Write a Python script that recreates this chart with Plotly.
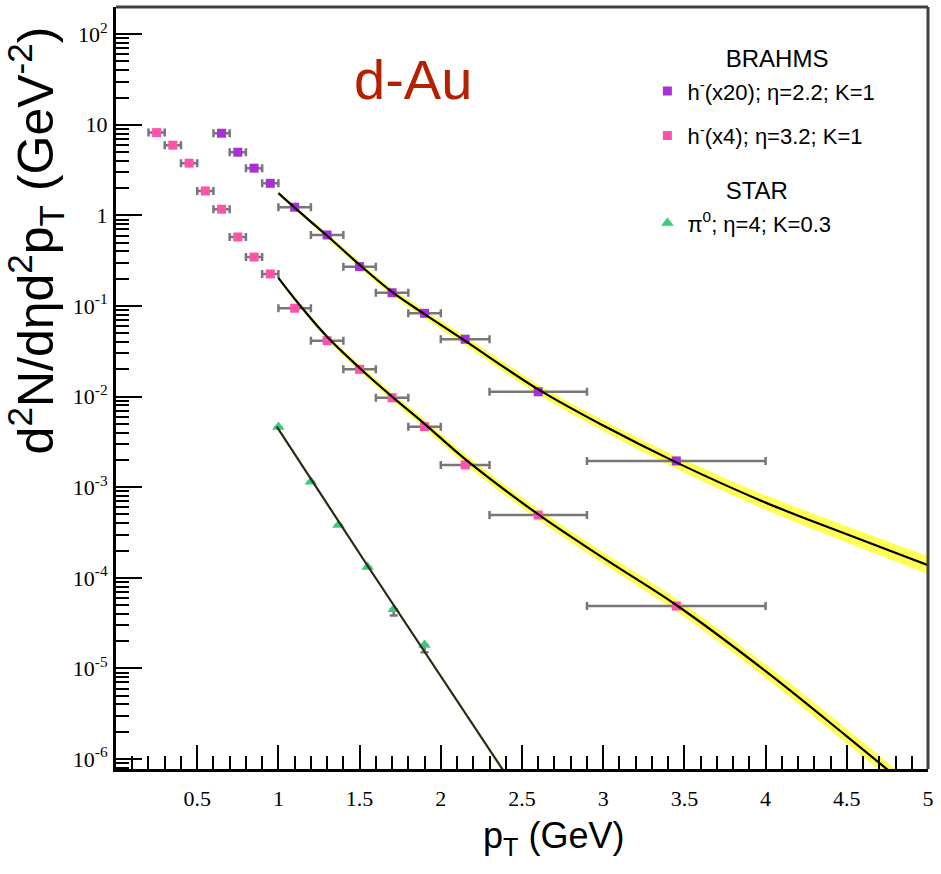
import plotly.graph_objects as go

# ---------------- data ----------------
# BRAHMS h- (x20), eta = 2.2
brahms22_pt = [0.65, 0.75, 0.85, 0.95, 1.1, 1.3, 1.5, 1.7, 1.9, 2.15, 2.6, 3.45]
brahms22_y = [8.07, 4.98, 3.32, 2.26, 1.23, 0.608, 0.272, 0.140, 0.083, 0.043, 0.0113, 0.00195]
brahms22_exm = [0.05, 0.05, 0.05, 0.05, 0.1, 0.1, 0.1, 0.1, 0.1, 0.15, 0.3, 0.55]
brahms22_exp = [0.05, 0.05, 0.05, 0.05, 0.1, 0.1, 0.1, 0.1, 0.1, 0.15, 0.3, 0.55]

# BRAHMS h- (x4), eta = 3.2
brahms32_pt = [0.25, 0.35, 0.45, 0.55, 0.65, 0.75, 0.85, 0.95, 1.1, 1.3, 1.5, 1.7, 1.9, 2.15, 2.6, 3.45]
brahms32_y = [8.2, 5.96, 3.77, 1.86, 1.17, 0.578, 0.347, 0.226, 0.0945, 0.0414, 0.0200,
              0.00972, 0.00466, 0.00176, 4.93e-4, 4.88e-5]
brahms32_exm = [0.05, 0.05, 0.05, 0.05, 0.05, 0.05, 0.05, 0.05, 0.1, 0.1, 0.1, 0.1, 0.1, 0.15, 0.3, 0.55]
brahms32_exp = [0.05, 0.05, 0.05, 0.05, 0.05, 0.05, 0.05, 0.05, 0.1, 0.1, 0.1, 0.1, 0.1, 0.15, 0.3, 0.55]

# STAR pi0, eta = 4
star_pt = [1.0, 1.2, 1.37, 1.55, 1.71, 1.9]
star_y = [4.62e-3, 1.15e-3, 3.82e-4, 1.32e-4, 4.49e-5, 1.81e-5]
star_ey_minus = [0, 0, 0, 0, 6.5e-6, 3.0e-6]
star_ey_plus = [0, 0, 0, 0, 0, 0]

# theory curves
th22_pt = [1.0, 1.1, 1.3, 1.5, 1.7, 1.9, 2.15, 2.6, 3.0, 3.45, 4.0, 4.5, 5.0]
th22_y = [1.758, 1.216, 0.596, 0.285, 0.143, 0.0813, 0.0412, 0.0120, 0.00479, 0.00188, 6.76e-4, 3.02e-4, 1.38e-4]
th22_band = [0.02, 0.02, 0.03, 0.035, 0.04, 0.045, 0.05, 0.055, 0.06, 0.07, 0.08, 0.09, 0.10]  # half width, decades

th32_pt = [1.0, 1.1, 1.3, 1.5, 1.7, 1.9, 2.15, 2.6, 3.0, 3.45, 4.0, 4.5, 4.8]
th32_y = [0.204, 0.120, 0.0457, 0.0207, 0.0100, 0.00501, 0.00204, 5.01e-4, 1.66e-4, 5.01e-5, 9.33e-6, 1.78e-6, 6.46e-7]
th32_band = [0.02, 0.025, 0.03, 0.04, 0.045, 0.05, 0.055, 0.06, 0.065, 0.07, 0.075, 0.08, 0.08]

th_star_pt = [0.99, 1.55, 2.42]
th_star_y = [4.66e-3, 1.35e-4, 6.0e-7]

# axis ticks
x_tickvals = [0.5, 1, 1.5, 2, 2.5, 3, 3.5, 4, 4.5, 5]
x_ticktext = ["0.5", "1", "1.5", "2", "2.5", "3", "3.5", "4", "4.5", "5"]
y_tickvals = [1e2, 10, 1, 1e-1, 1e-2, 1e-3, 1e-4, 1e-5, 1e-6]
y_ticktext = ["10<sup>2</sup>", "10", "1", "10<sup>-1</sup>", "10<sup>-2</sup>", "10<sup>-3</sup>",
              "10<sup>-4</sup>", "10<sup>-5</sup>", "10<sup>-6</sup>"]

# ---------------- styles ----------------
PURPLE = "#ab2fd6"
PINK = "#ff52aa"
GREEN = "#3ccb7a"
BAND = "#ffff55"
ERR = "#777777"
SANS = "Liberation Sans, Arial, sans-serif"
SERIF = "Liberation Serif, Times New Roman, serif"
NB = "\u00a0"
TITLE_FONT = dict(family=SANS, size=24, color="black")

fig = go.Figure()

# yellow bands
for pts, ys, bw in [(th22_pt, th22_y, th22_band), (th32_pt, th32_y, th32_band)]:
    lo = [v / (10 ** w) for v, w in zip(ys, bw)]
    hi = [v * (10 ** w) for v, w in zip(ys, bw)]
    fig.add_trace(go.Scatter(x=pts, y=lo, mode="lines", line=dict(width=0, shape="spline", color=BAND),
                             showlegend=False, hoverinfo="skip"))
    fig.add_trace(go.Scatter(x=pts, y=hi, mode="lines", line=dict(width=0, shape="spline", color=BAND),
                             fill="tonexty", fillcolor=BAND, showlegend=False, hoverinfo="skip"))

# data
fig.add_trace(go.Scatter(
    x=brahms22_pt, y=brahms22_y, mode="markers",
    marker=dict(symbol="square", size=9, color=PURPLE),
    error_x=dict(type="data", symmetric=False, array=brahms22_exp, arrayminus=brahms22_exm,
                 color=ERR, thickness=2.5, width=4),
    name="h<sup>-</sup>(x20); η=2.2; K=1",
    legend="legend", legendgroup="g1",
    legendgrouptitle=dict(text=NB * 11 + "BRAHMS", font=TITLE_FONT),
))
fig.add_trace(go.Scatter(
    x=brahms32_pt, y=brahms32_y, mode="markers",
    marker=dict(symbol="square", size=9, color=PINK),
    error_x=dict(type="data", symmetric=False, array=brahms32_exp, arrayminus=brahms32_exm,
                 color=ERR, thickness=2.5, width=4),
    name="h<sup>-</sup>(x4); η=3.2; K=1",
    legend="legend", legendgroup="g2",
))
fig.add_trace(go.Scatter(
    x=star_pt, y=star_y, mode="markers",
    marker=dict(symbol="triangle-up", size=11, color=GREEN),
    error_y=dict(type="data", symmetric=False, array=star_ey_plus, arrayminus=star_ey_minus,
                 color=ERR, thickness=2.5, width=4),
    name="π<sup>0</sup>; η=4; K=0.3",
    legend="legend2", legendgroup="g3",
    legendgrouptitle=dict(text=NB * 11 + "STAR", font=TITLE_FONT),
))

# theory lines
fig.add_trace(go.Scatter(x=th22_pt, y=th22_y, mode="lines", line=dict(color="black", width=2.2, shape="spline"),
                         showlegend=False, hoverinfo="skip"))
fig.add_trace(go.Scatter(x=th32_pt, y=th32_y, mode="lines", line=dict(color="black", width=2.2, shape="spline"),
                         showlegend=False, hoverinfo="skip"))
fig.add_trace(go.Scatter(x=th_star_pt, y=th_star_y, mode="lines", line=dict(color="#2a2a12", width=2.2, shape="spline"),
                         showlegend=False, hoverinfo="skip"))

L, R, T, B = 116, 9, 7, 105
W, H = 941, 874
pw, ph = W - L - R, H - T - B


def px(xp):
    return (xp - L) / pw


def py(yp):
    return (H - B - yp) / ph


legend_common = dict(xanchor="left", yanchor="top",
                     font=dict(family=SANS, size=22, color="black"),
                     bgcolor="rgba(0,0,0,0)", traceorder="grouped", tracegroupgap=13)

fig.update_layout(
    width=W, height=H,
    margin=dict(l=L, r=R, t=T, b=B, pad=0),
    paper_bgcolor="white", plot_bgcolor="white",
    showlegend=True,
    legend=dict(x=px(650), y=py(36), **legend_common),
    legend2=dict(x=px(650), y=py(168), **legend_common),
    xaxis=dict(range=[0, 5.0], showgrid=False, zeroline=False,
               showline=True, linecolor="black", linewidth=3,
               ticks="inside", ticklen=24, tickwidth=2, tickcolor="black",
               tickmode="array", tickvals=x_tickvals, ticktext=x_ticktext,
               tickfont=dict(family=SERIF, size=22, color="black"), ticklabelstandoff=8,
               minor=dict(ticks="inside", ticklen=13, tickwidth=2, tickcolor="black", tick0=0, dtick=0.1)),
    yaxis=dict(type="log", range=[-6.11, 2.30], showgrid=False, zeroline=False,
               showline=True, linecolor="black", linewidth=3,
               ticks="inside", ticklen=26, tickwidth=2, tickcolor="black",
               tickmode="array", tickvals=y_tickvals, ticktext=y_ticktext,
               tickfont=dict(family=SERIF, size=22, color="black"), ticklabelstandoff=1,
               minor=dict(ticks="inside", ticklen=13, tickwidth=2, tickcolor="black", dtick="D1")),
    shapes=[
        dict(type="line", xref="paper", yref="paper", x0=0, x1=1, y0=1, y1=1, line=dict(color="#404040", width=3)),
        dict(type="line", xref="paper", yref="paper", x0=1, x1=1, y0=0, y1=1, line=dict(color="#404040", width=3)),
    ],
    annotations=[
        dict(text="d-Au", xref="paper", yref="paper", x=px(414), y=py(80), showarrow=False,
             font=dict(family=SANS, size=56, color="#b52100"), xanchor="center", yanchor="middle"),
        dict(text="d<sup>2</sup>N/dηd<sup>2</sup>p<sub>T</sub> (GeV<sup>-2</sup>)", xref="paper", yref="paper",
             x=px(36), y=py(240), showarrow=False, textangle=-90,
             font=dict(family=SANS, size=50, color="black"), xanchor="center", yanchor="middle"),
        dict(text="p<sub>T</sub> (GeV)", xref="paper", yref="paper", x=px(556), y=py(838), showarrow=False,
             font=dict(family=SANS, size=36, color="black"), xanchor="center", yanchor="middle"),
    ],
)

fig.write_html("out.html", config={"displayModeBar": False},
               post_script="document.body.style.margin='0px';")
